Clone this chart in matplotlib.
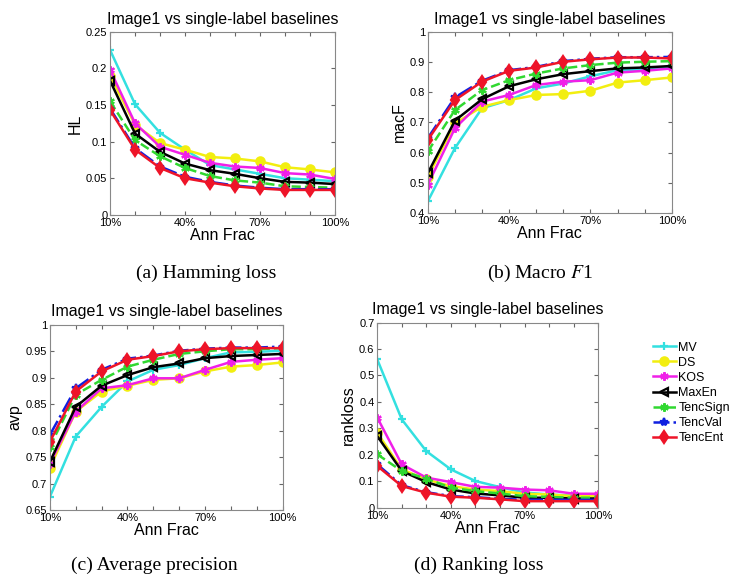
import matplotlib
matplotlib.use('Agg')
from matplotlib import pyplot as plt

plt.rcParams['font.family'] = ['Liberation Sans', 'DejaVu Sans']
plt.rcParams['mathtext.fontset'] = 'stix'

# annotation fraction on the x axis
frac = ['10%', '20%', '30%', '40%', '50%', '60%', '70%', '80%', '90%', '100%']
methods = ['MV', 'DS', 'KOS', 'MaxEn', 'TencSign', 'TencVal', 'TencEnt']

# (a) Hamming loss
hl_mv = [0.225, 0.151, 0.112, 0.089, 0.068, 0.062, 0.056, 0.050, 0.048, 0.046]
hl_ds = [0.190, 0.123, 0.098, 0.089, 0.079, 0.077, 0.073, 0.065, 0.062, 0.058]
hl_kos = [0.198, 0.125, 0.093, 0.082, 0.071, 0.066, 0.064, 0.057, 0.055, 0.049]
hl_maxen = [0.183, 0.111, 0.086, 0.070, 0.061, 0.056, 0.050, 0.045, 0.044, 0.042]
hl_sign = [0.155, 0.102, 0.080, 0.064, 0.053, 0.047, 0.044, 0.039, 0.038, 0.037]
hl_val = [0.145, 0.091, 0.066, 0.052, 0.045, 0.040, 0.037, 0.035, 0.035, 0.035]
hl_ent = [0.143, 0.089, 0.064, 0.050, 0.044, 0.039, 0.036, 0.034, 0.034, 0.034]

# (b) Macro F1
mf_mv = [0.439, 0.615, 0.747, 0.774, 0.813, 0.829, 0.853, 0.873, 0.873, 0.884]
mf_ds = [0.520, 0.697, 0.752, 0.774, 0.791, 0.794, 0.805, 0.832, 0.840, 0.849]
mf_kos = [0.494, 0.681, 0.769, 0.791, 0.824, 0.835, 0.840, 0.865, 0.871, 0.879]
mf_maxen = [0.532, 0.706, 0.777, 0.820, 0.843, 0.860, 0.870, 0.879, 0.882, 0.887]
mf_sign = [0.604, 0.741, 0.807, 0.840, 0.862, 0.879, 0.890, 0.898, 0.901, 0.903]
mf_val = [0.648, 0.783, 0.838, 0.873, 0.884, 0.903, 0.911, 0.916, 0.916, 0.917]
mf_ent = [0.642, 0.774, 0.835, 0.871, 0.882, 0.901, 0.909, 0.915, 0.915, 0.912]

# (c) Average precision
ap_mv = [0.675, 0.789, 0.845, 0.893, 0.915, 0.924, 0.937, 0.948, 0.949, 0.951]
ap_ds = [0.730, 0.836, 0.874, 0.885, 0.896, 0.899, 0.912, 0.921, 0.924, 0.929]
ap_kos = [0.738, 0.836, 0.880, 0.886, 0.899, 0.899, 0.915, 0.930, 0.934, 0.937]
ap_maxen = [0.741, 0.845, 0.885, 0.905, 0.920, 0.927, 0.937, 0.941, 0.943, 0.945]
ap_sign = [0.770, 0.868, 0.896, 0.921, 0.934, 0.945, 0.950, 0.954, 0.954, 0.956]
ap_val = [0.792, 0.880, 0.915, 0.936, 0.942, 0.951, 0.955, 0.957, 0.957, 0.959]
ap_ent = [0.779, 0.874, 0.912, 0.934, 0.941, 0.950, 0.954, 0.956, 0.956, 0.956]

# (d) Ranking loss
rl_mv = [0.561, 0.334, 0.214, 0.145, 0.101, 0.078, 0.058, 0.050, 0.046, 0.044]
rl_ds = [0.284, 0.145, 0.107, 0.082, 0.069, 0.063, 0.053, 0.050, 0.044, 0.044]
rl_kos = [0.341, 0.164, 0.114, 0.097, 0.079, 0.076, 0.069, 0.066, 0.053, 0.053]
rl_maxen = [0.271, 0.139, 0.097, 0.069, 0.054, 0.047, 0.038, 0.038, 0.035, 0.035]
rl_sign = [0.202, 0.139, 0.110, 0.076, 0.063, 0.054, 0.044, 0.041, 0.038, 0.038]
rl_val = [0.164, 0.085, 0.059, 0.044, 0.040, 0.034, 0.030, 0.030, 0.030, 0.030]
rl_ent = [0.158, 0.082, 0.057, 0.042, 0.038, 0.032, 0.025, 0.025, 0.025, 0.025]

# line styles per method (colour, linestyle, marker, filled marker?)
styles = {
    'MV': ('#33E0E0', '-', '+', True),
    'DS': ('#F2EE10', '-', 'o', True),
    'KOS': ('#F020E8', '-', (6, 2, 0), True),
    'MaxEn': ('black', '-', '<', False),
    'TencSign': ('#30D830', '--', (6, 2, 0), True),
    'TencVal': ('#1020E0', '-.', '*', True),
    'TencEnt': ('#EE1428', '-', 'd', True),
}

panels = [
    ([0.148, 0.629, 0.302, 0.316], 'HL', [0, 0.25], [0, 0.05, 0.1, 0.15, 0.2, 0.25],
     [hl_mv, hl_ds, hl_kos, hl_maxen, hl_sign, hl_val, hl_ent]),
    ([0.575, 0.632, 0.328, 0.313], 'macF', [0.4, 1], [0.4, 0.5, 0.6, 0.7, 0.8, 0.9, 1],
     [mf_mv, mf_ds, mf_kos, mf_maxen, mf_sign, mf_val, mf_ent]),
    ([0.067, 0.119, 0.313, 0.320], 'avp', [0.65, 1], [0.65, 0.7, 0.75, 0.8, 0.85, 0.9, 0.95, 1],
     [ap_mv, ap_ds, ap_kos, ap_maxen, ap_sign, ap_val, ap_ent]),
    ([0.507, 0.123, 0.297, 0.320], 'rankloss', [0, 0.7], [0, 0.1, 0.2, 0.3, 0.4, 0.5, 0.6, 0.7],
     [rl_mv, rl_ds, rl_kos, rl_maxen, rl_sign, rl_val, rl_ent]),
]

fig = plt.figure(figsize=(7.44, 5.79), dpi=100)
x = list(range(len(frac)))
handles = []
for rect, ylab, ylim, yt, series in panels:
    ax = fig.add_axes(rect)
    handles = []
    for name, vals in zip(methods, series):
        col, ls, mk, filled = styles[name]
        h, = ax.plot(x, vals, color=col, linestyle=ls, linewidth=1.8, marker=mk,
                     markersize=6, markeredgewidth=1.6,
                     markerfacecolor=col if filled else 'none', markeredgecolor=col)
        handles.append(h)
    ax.set_xlim(0, 9)
    ax.set_ylim(ylim)
    ax.set_xticks(x)
    ax.set_xticklabels([f if i % 3 == 0 else '' for i, f in enumerate(frac)])
    ax.set_yticks(yt)
    ax.set_yticklabels(['%g' % v for v in yt])
    ax.tick_params(direction='in', top=True, right=True, labelsize=8, length=3,
                   pad=2, color='#666666')
    for sp in ax.spines.values():
        sp.set_color('#888888')
    ax.set_title('Image1 vs single-label baselines', fontsize=11.5, pad=6)
    ax.set_xlabel('Ann Frac', fontsize=11.5, labelpad=0)
    ax.set_ylabel(ylab, fontsize=11.5, labelpad=2)

fig.legend(handles, methods, loc='upper left', bbox_to_anchor=(0.878, 0.41),
           frameon=False, fontsize=9, handlelength=1.8, handletextpad=0.2,
           labelspacing=0.25, borderpad=0, borderaxespad=0)

# sub-figure captions
cap = dict(fontsize=14, family=['Liberation Serif', 'DejaVu Serif'], ha='center', va='center')
fig.text(206 / 744, 1 - 273 / 579, '(a) Hamming loss', **cap)
fig.text(540 / 744, 1 - 273 / 579, '(b) Macro $\\mathit{F}$1', **cap)
fig.text(154 / 744, 1 - 565 / 579, '(c) Average precision', **cap)
fig.text(479 / 744, 1 - 565 / 579, '(d) Ranking loss', **cap)

fig.savefig('out.png', dpi=100)
